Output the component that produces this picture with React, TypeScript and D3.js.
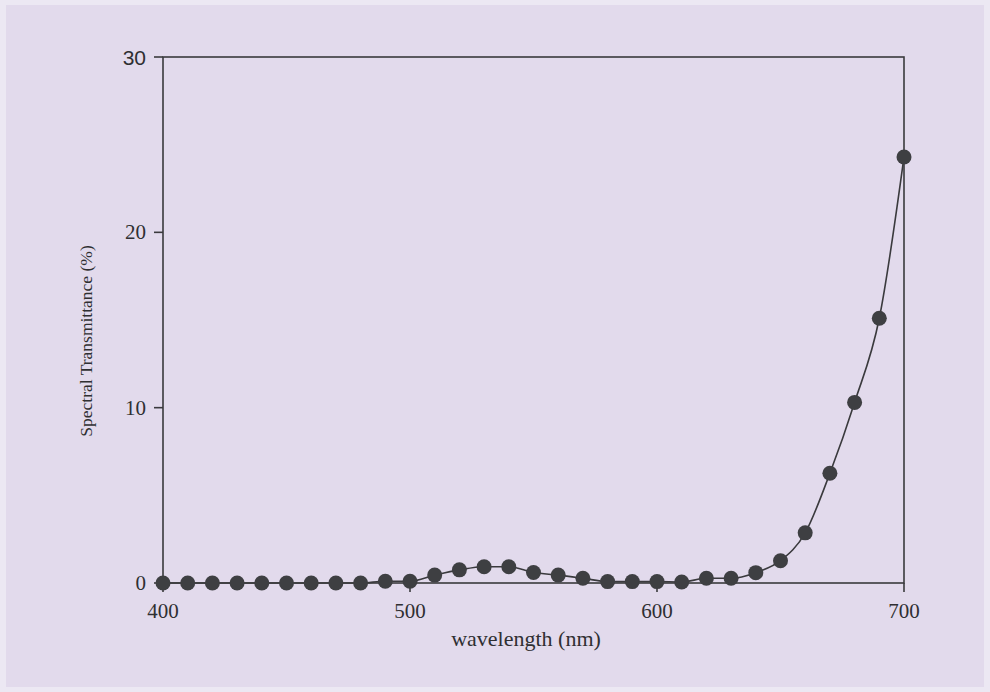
import React from "react";
import * as d3 from "d3";

const wavelengths = [400,410,420,430,440,450,460,470,480,490,500,510,520,530,540,550,560,570,580,590,600,610,620,630,640,650,660,670,680,690,700];
const transmittance = [0,0,0,0,0,0,0,0,0,0.1,0.1,0.45,0.75,0.93,0.93,0.6,0.45,0.27,0.08,0.08,0.08,0.06,0.27,0.27,0.59,1.27,2.86,6.26,10.3,15.1,24.3];
const xTicks = [400, 500, 600, 700];
const yTicks = [0, 10, 20, 30];
const xLabel = "wavelength (nm)";
const yLabel = "Spectral Transmittance (%)";

const W = 990, H = 692;
const L = 163, R = 904, T = 57, B = 583;
const ink = "#3a3a3d";
const textInk = "#2f2f32";
const serif = "'Liberation Serif', 'DejaVu Serif', serif";

export default function App() {
  const x = d3.scaleLinear().domain([400, 700]).range([L, R]);
  const y = d3.scaleLinear().domain([0, 30]).range([B, T]);
  const pts = wavelengths.map((w, i) => [w, transmittance[i]] as [number, number]);
  const line = d3.line<[number, number]>().x(d => x(d[0])).y(d => y(d[1])).curve(d3.curveMonotoneX);

  return (
    <svg width={W} height={H} style={{ position: "absolute", left: 0, top: 0 }}>
      <rect x={0} y={0} width={W} height={H} fill="#ece8f3" />
      <rect x={6} y={5} width={W - 12} height={H - 10} fill="#e2daec" />
      <g stroke={ink} strokeWidth={1.6} fill="none">
        <rect x={L} y={T} width={R - L} height={B - T} />
        {xTicks.map(t => <line key={t} x1={x(t)} x2={x(t)} y1={B} y2={B + 9} />)}
        {yTicks.map(t => <line key={t} x1={L} x2={L - 9} y1={y(t)} y2={y(t)} />)}
      </g>
      {xTicks.map(t => (
        <text key={t} x={x(t)} y={B + 35} textAnchor="middle" fontFamily={serif} fontSize={21} fill={textInk}>{t}</text>
      ))}
      {yTicks.map(t => (
        <text key={t} x={L - 17} y={y(t) + (t === 30 ? 8 : 7)} textAnchor="end"
          fontFamily={t === 30 ? "'Liberation Sans', Arial, sans-serif" : serif}
          fontSize={21} fill={textInk}>{t}</text>
      ))}
      <text x={526} y={646} textAnchor="middle" fontFamily={serif} fontSize={22} fill={textInk}>{xLabel}</text>
      <text transform={`translate(92, 341) rotate(-90)`} textAnchor="middle" fontFamily={serif} fontSize={17.5} fill={textInk}>{yLabel}</text>
      <path d={line(pts) || ""} fill="none" stroke={ink} strokeWidth={1.6} />
      {pts.map((d, i) => (
        <circle key={i} cx={x(d[0])} cy={y(d[1])} r={7.5} fill="#3e3f42" />
      ))}
    </svg>
  );
}
